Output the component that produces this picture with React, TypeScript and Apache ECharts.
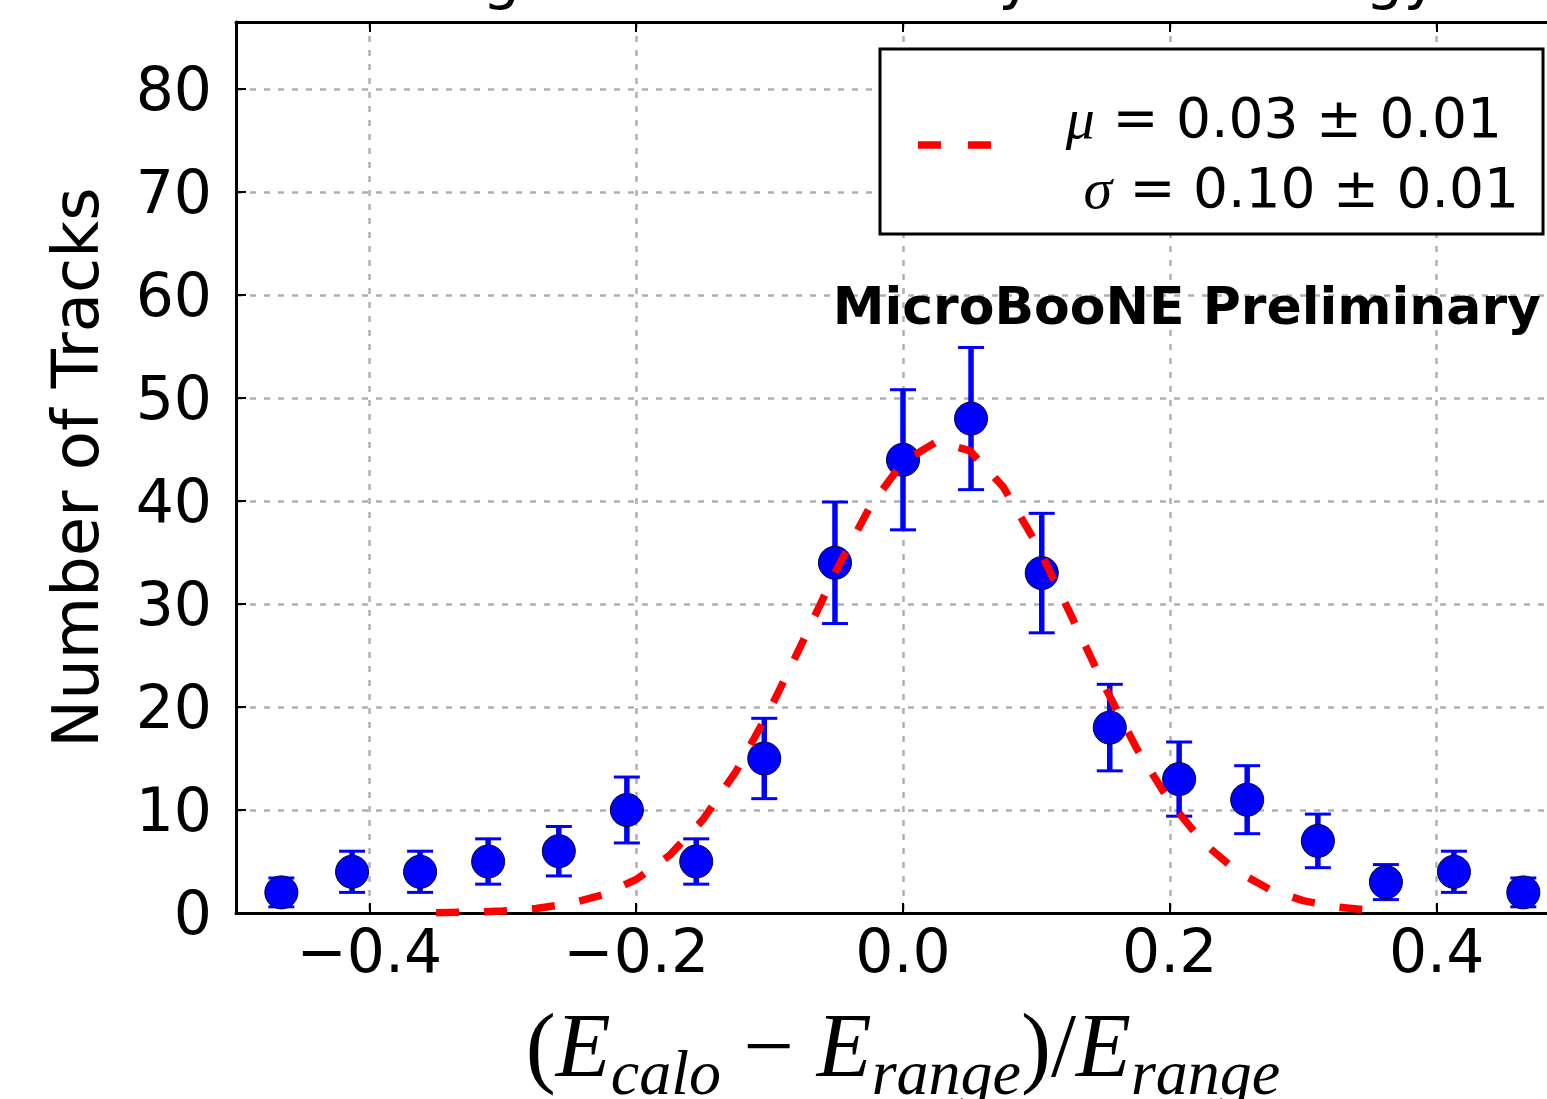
import React, { useEffect, useRef } from "react";
import * as echarts from "echarts";

const BIN_CENTERS = [-0.466, -0.413, -0.362, -0.311, -0.258, -0.207, -0.155, -0.104, -0.051, 0.0, 0.051, 0.104, 0.155, 0.207, 0.258, 0.311, 0.362, 0.413, 0.465];
const COUNTS = [2, 4, 4, 5, 6, 10, 5, 15, 34, 44, 48, 33, 18, 13, 11, 7, 3, 4, 2];
const ERRORS = [1.4, 2.0, 2.0, 2.2, 2.4, 3.2, 2.2, 3.9, 5.9, 6.8, 6.9, 5.8, 4.2, 3.6, 3.3, 2.6, 1.7, 2.0, 1.4];

const FIT_X = [-0.35, -0.325, -0.3, -0.275, -0.25, -0.225, -0.2, -0.175, -0.15, -0.125, -0.1, -0.075, -0.05, -0.025, 0.0, 0.025, 0.05, 0.075, 0.1, 0.125, 0.15, 0.175, 0.2, 0.225, 0.25, 0.275, 0.3, 0.325, 0.35];
const FIT_Y = [0.03, 0.08, 0.2, 0.44, 0.91, 1.77, 3.25, 5.6, 9.06, 13.78, 19.68, 26.39, 33.26, 39.38, 43.79, 45.74, 44.89, 41.39, 35.85, 29.17, 22.3, 16.01, 10.8, 6.84, 4.07, 2.28, 1.2, 0.59, 0.27];

const X_TICKS = [-0.4, -0.2, 0.0, 0.2, 0.4];
const Y_MAX = 86.5;

const TITLE = "Range vs. Calorimetry Track Energy";
const Y_NAME = "Number of Tracks";
const WATERMARK = "MicroBooNE Preliminary";
const LEGEND_MU = "0.03 ± 0.01";
const LEGEND_SIGMA = "0.10 ± 0.01";

const SANS = "DejaVu Sans";
const SERIF = "Liberation Serif";
const GRID_LINE = { color: "#b0b0b0", width: 2.5, type: [6, 8] as number[] };

const fmtX = (v: number) => {
  const s = Math.abs(v).toFixed(1);
  return v < -1e-9 ? "\u2212" + s : s;
};

export default function App() {
  const ref = useRef<HTMLDivElement>(null);
  useEffect(() => {
    if (!ref.current) return;
    const chart = echarts.init(ref.current, undefined, { renderer: "svg" });
    const mainSize = 90;
    const subSize = 64;
    const option: any = {
      animation: false,
      backgroundColor: "#fff",
      grid: { left: 236, top: 22, width: 1334, height: 891, containLabel: false, outerBoundsMode: "none" },
      xAxis: [
        {
          type: "value",
          min: -0.5,
          max: 0.5,
          position: "bottom",
          axisLine: { show: true, onZero: false, lineStyle: { color: "#000", width: 3 } },
          axisTick: { show: true, inside: true, length: 10, lineStyle: { color: "#000", width: 2 }, customValues: X_TICKS },
          axisLabel: { customValues: X_TICKS, formatter: fmtX, fontSize: 60, color: "#000", fontFamily: SANS, margin: 8 },
          splitLine: { show: true, lineStyle: GRID_LINE },
          name: "{p|(}{E|E}{s|calo}{p| \u2212 }{E|E}{s|range}{p|)/}{E|E}{s|range}",
          nameLocation: "middle",
          nameGap: 87,
          nameTextStyle: {
            rich: {
              p: { fontSize: mainSize, fontFamily: SERIF, color: "#000", lineHeight: 90, verticalAlign: "top" },
              E: { fontSize: mainSize, fontFamily: SERIF, fontStyle: "italic", color: "#000", lineHeight: 90, verticalAlign: "top" },
              s: { fontSize: subSize, fontFamily: SERIF, fontStyle: "italic", color: "#000", lineHeight: 58, verticalAlign: "top", padding: [40, 0, 0, 0] },
            },
          },
        },
        {
          type: "value",
          min: -0.5,
          max: 0.5,
          position: "top",
          axisLine: { show: true, onZero: false, lineStyle: { color: "#000", width: 3 } },
          axisTick: { show: true, inside: true, length: 10, lineStyle: { color: "#000", width: 2 }, customValues: X_TICKS },
          axisLabel: { show: false },
          splitLine: { show: false },
        },
      ],
      yAxis: [
        {
          type: "value",
          min: 0,
          max: Y_MAX,
          interval: 10,
          position: "left",
          axisLine: { show: true, onZero: false, lineStyle: { color: "#000", width: 3 } },
          axisTick: { show: true, inside: true, length: 10, lineStyle: { color: "#000", width: 2 } },
          axisLabel: { fontSize: 60, color: "#000", fontFamily: SANS, margin: 24, showMaxLabel: false },
          splitLine: { show: true, lineStyle: GRID_LINE },
          name: Y_NAME,
          nameLocation: "middle",
          nameGap: 128,
          nameTextStyle: { fontSize: 64, fontFamily: SANS, color: "#000" },
        },
      ],
      series: [
        {
          type: "custom",
          z: 2,
          data: BIN_CENTERS.map((x, i) => [x, COUNTS[i] - ERRORS[i], COUNTS[i] + ERRORS[i]]),
          encode: { x: 0, y: [1, 2] },
          renderItem: (params: any, api: any) => {
            const x = api.value(0);
            const lo = api.coord([x, api.value(1)]);
            const hi = api.coord([x, api.value(2)]);
            const cap = 13;
            const blue = "#0000ff";
            return {
              type: "group",
              children: [
                { type: "line", shape: { x1: lo[0], y1: lo[1], x2: hi[0], y2: hi[1] }, style: { stroke: blue, lineWidth: 5.5 } },
                { type: "line", shape: { x1: lo[0] - cap, y1: lo[1], x2: lo[0] + cap, y2: lo[1] }, style: { stroke: blue, lineWidth: 3 } },
                { type: "line", shape: { x1: hi[0] - cap, y1: hi[1], x2: hi[0] + cap, y2: hi[1] }, style: { stroke: blue, lineWidth: 3 } },
              ],
            };
          },
        },
        {
          type: "scatter",
          z: 3,
          symbol: "circle",
          symbolSize: 33,
          itemStyle: { color: "#0000ff", borderColor: "#000022", borderWidth: 1, opacity: 1 },
          data: BIN_CENTERS.map((x, i) => [x, COUNTS[i]]),
        },
        {
          type: "line",
          z: 4,
          showSymbol: false,
          symbol: "none",
          lineStyle: { color: "#ff0000", width: 7.5, type: [23, 25], cap: "butt" },
          data: FIT_X.map((x, i) => [x, FIT_Y[i]]),
        },
      ],
      graphic: [
        {
          type: "text",
          z: 100,
          x: 903,
          y: -24,
          style: { text: TITLE, fontSize: 60, fontFamily: SANS, fill: "#000", align: "center", verticalAlign: "middle" },
        },
        {
          type: "rect",
          z: 100,
          shape: { x: 880, y: 49, width: 663, height: 185 },
          style: { fill: "#fff", stroke: "#000", lineWidth: 3 },
        },
        {
          type: "line",
          z: 101,
          shape: { x1: 918, y1: 145, x2: 993, y2: 145 },
          style: { stroke: "#ff0000", lineWidth: 7.5, lineDash: [23, 27] },
        },
        {
          type: "text",
          z: 101,
          x: 1502,
          y: 118,
          style: {
            text: "{m|\u03bc}{t| = " + LEGEND_MU + "}",
            align: "right",
            verticalAlign: "middle",
            rich: {
              m: { fontSize: 58, fontFamily: SERIF, fontStyle: "italic", fill: "#000" },
              t: { fontSize: 55, fontFamily: SANS, fill: "#000" },
            },
          },
        },
        {
          type: "text",
          z: 101,
          x: 1519,
          y: 188,
          style: {
            text: "{m|\u03c3}{t| = " + LEGEND_SIGMA + "}",
            align: "right",
            verticalAlign: "middle",
            rich: {
              m: { fontSize: 58, fontFamily: SERIF, fontStyle: "italic", fill: "#000" },
              t: { fontSize: 55, fontFamily: SANS, fill: "#000" },
            },
          },
        },
        {
          type: "text",
          z: 101,
          x: 1541,
          y: 306,
          style: { text: WATERMARK, fontSize: 52, fontWeight: "bold", fontFamily: SANS, fill: "#000", align: "right", verticalAlign: "middle" },
        },
      ],
    };
    chart.setOption(option);
    return () => chart.dispose();
  }, []);
  return (
    <div style={{ position: "absolute", left: 0, top: 0, width: 1547, height: 1099, overflow: "hidden", background: "#fff" }}>
      <div ref={ref} style={{ width: 1640, height: 1099 }} />
    </div>
  );
}
